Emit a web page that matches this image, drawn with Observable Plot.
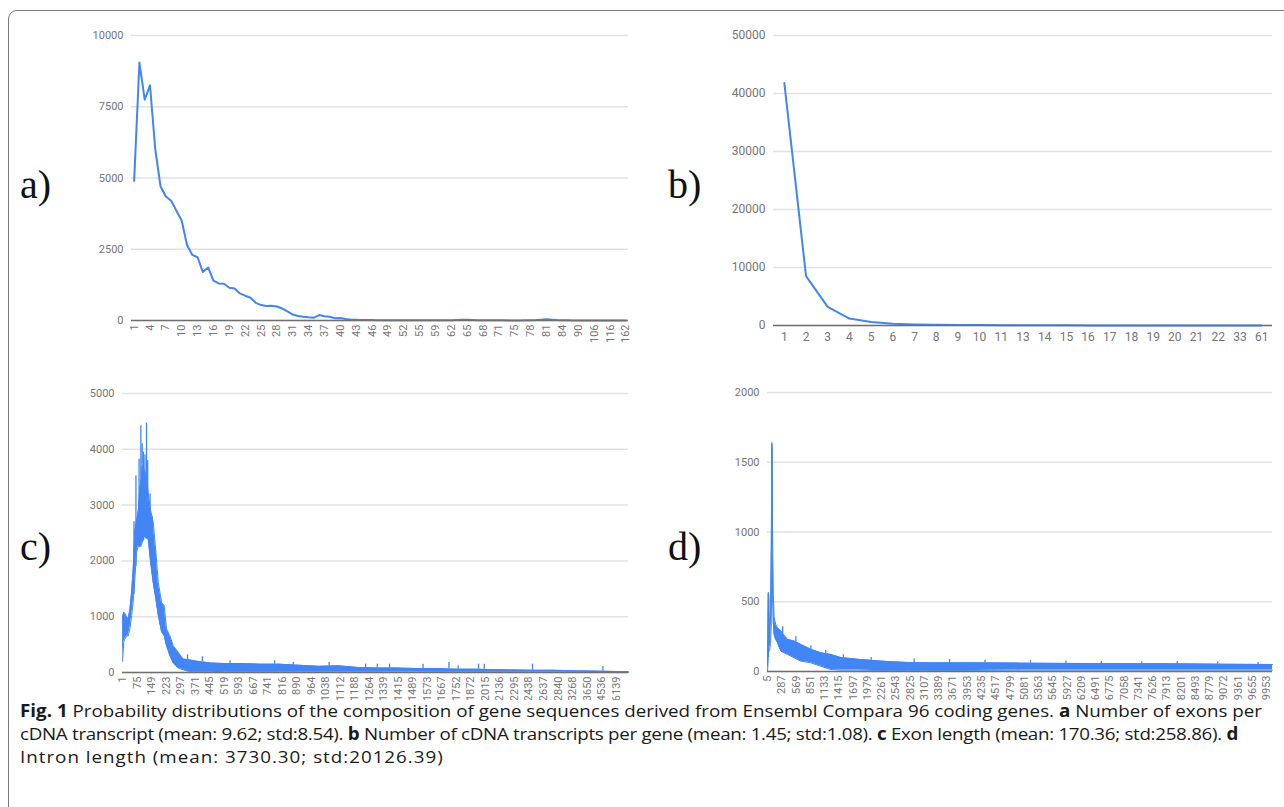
<!DOCTYPE html>
<html><head><meta charset="utf-8">
<script src="https://cdn.jsdelivr.net/npm/d3@7"></script>
<script src="https://cdn.jsdelivr.net/npm/@observablehq/plot@0.6"></script>
<style>
html,body{margin:0;padding:0;background:#fff}
body{width:1284px;height:807px;overflow:hidden;position:relative;font-family:Roboto,sans-serif}
#frame{position:absolute;left:8px;top:10px;width:1400px;height:900px;border:1.5px solid #7a7a7a;border-radius:9px;box-sizing:border-box}
.panel{position:absolute}
.lab{position:absolute;font-family:"Liberation Serif",serif;font-size:40px;line-height:40px;color:#111}
#caption{position:absolute;left:20px;top:699px;font-family:"Open Sans",sans-serif;font-size:17px;color:#1a1a1a;line-height:23px}
.line{white-space:nowrap;transform-origin:0 0;display:block;width:max-content}
</style></head><body>
<div id="frame"></div>
<div class="panel" id="pa" style="left:60px;top:20px"></div>
<div class="panel" id="pb" style="left:700px;top:20px"></div>
<div class="panel" id="pc" style="left:60px;top:370px"></div>
<div class="panel" id="pd" style="left:700px;top:370px"></div>
<div class="lab" style="left:20px;top:165px">a)</div>
<div class="lab" style="left:668px;top:165px">b)</div>
<div class="lab" style="left:20px;top:527px">c)</div>
<div class="lab" style="left:668px;top:527px">d)</div>
<div id="caption">
<span class="line" data-w="1242"><b>Fig. 1</b> Probability distributions of the composition of gene sequences derived from Ensembl Compara 96 coding genes. <b>a</b> Number of exons per</span>
<span class="line" data-w="1218">cDNA transcript (mean: 9.62; std:8.54). <b>b</b> Number of cDNA transcripts per gene (mean: 1.45; std:1.08). <b>c</b> Exon length (mean: 170.36; std:258.86). <b>d</b></span>
<span class="line" data-w="462">Intron length (mean: 3730.30; std:20126.39)</span>
</div>
<script>
// ---------- Panel a: number of exons per cDNA transcript ----------
const catsA = [1,2,3,4,5,6,7,8,9,10,11,12,13,14,15,16,17,18,19,20,21,22,23,24,25,26,27,28,29,30,
  31,32,33,34,35,36,37,38,39,40,41,42,43,44,45,46,47,48,49,50,51,52,53,54,55,56,58,59,60,61,
  62,63,64,65,66,67,68,69,70,71,72,74,75,76,77,78,79,80,81,82,83,84,86,88,90,95,101,106,109,113,
  116,124,137,162];
const valuesA = [4900,9050,7750,8250,6000,4700,4350,4200,3850,3500,
  2650,2300,2220,1700,1860,1400,1300,1290,1150,1120,
  950,870,800,620,540,510,520,490,420,320,
  210,160,130,110,100,190,150,130,80,90,
  50,30,25,20,18,15,12,10,10,8,
  8,7,7,6,6,6,5,5,8,10,
  10,15,22,30,20,12,8,6,5,5,
  5,4,4,4,5,8,15,30,45,30,
  15,8,5,4,3,3,2,2,2,1,1,1,1,1];
const yTicksA = [0,2500,5000,7500,10000];

// ---------- Panel b: number of cDNA transcripts per gene ----------
const catsB = [1,2,3,4,5,6,7,8,9,10,11,13,14,15,16,17,18,19,20,21,22,33,61];
const valuesB = [41800,8500,3200,1200,600,300,180,120,90,70,50,40,30,25,20,15,12,10,8,6,4,2,1];
const yTicksB = [0,10000,20000,30000,40000,50000];

// ---------- Panel c: exon length (dense series, read as envelope) ----------
const countC = 2580;            // number of categories on the axis
const tickStepC = 74;           // categories between shown labels
const labelsC = ["1","75","149","223","297","371","445","519","593","667","741","816","890","964","1038",
  "1112","1188","1264","1339","1415","1489","1573","1667","1752","1872","2015","2136","2295","2438",
  "2637","2840","3268","3650","4536","6139"];
const envIdxC = [0,6,12,20,29,38,46,54,63,71,80,88,97,100,109,114,122,131,143,156,170,182,199,212,224,241,258,284,309,335,380,450,520,600,700,800,900,1000,1100,1200,1300,1400,1500,1600,1700,1800,1900,2000,2100,2200,2300,2400,2500,2579];
const envLoC  = [200,550,600,650,660,800,1020,1260,1700,2150,2270,2250,2300,2330,2400,2420,2400,2390,1970,1610,1310,1020,720,660,480,300,170,80,50,20,20,20,15,15,15,15,10,10,10,10,10,8,8,5,5,5,5,5,3,3,3,2,2,1];
const envHiC  = [1000,1080,1060,1000,960,1150,1440,1860,2550,2700,2900,3300,3500,3700,3650,3600,3500,3200,2900,2700,2150,1610,1250,1200,780,660,480,360,240,230,200,170,160,160,150,150,130,110,120,90,80,80,70,70,60,60,50,45,40,40,30,25,20,15];
const spikeIdxC  = [58,68,84,93,100,106,114,122,128,140,150,165,190,331,407,548,775,870,1053,1239,1299,1361,1532,1664,1711,1815,1844,2090,2449];
const spikeBaseC = [1400,1900,2250,2250,2330,2380,2420,2400,2400,2100,1800,1450,900,230,195,160,150,135,115,88,80,80,70,70,60,60,58,40,22];
const spikeValC  = [2700,3520,3820,4420,4100,3950,3900,4470,3800,3200,2800,2200,1250,317,281,210,210,180,180,150,150,150,150,180,120,150,150,150,108];
const yTicksC = [0,1000,2000,3000,4000,5000];

// ---------- Panel d: intron length (dense series, read as envelope) ----------
const countD = 9985;
const tickStepD = 282;
const labelsD = ["5","287","569","851","1133","1415","1697","1979","2261","2543","2825","3107","3389","3671",
  "3953","4235","4517","4799","5081","5363","5645","5927","6209","6491","6775","7058","7341","7626",
  "7913","8201","8493","8779","9072","9361","9655","9953"];
const envIdxD = [0,15,25,40,60,75,85,92,100,115,130,160,197,263,395,527,659,857,1054,1252,1450,1779,2108,2438,2767,3097,4000,5000,6000,7000,8000,9000,9984];
const envLoD  = [0,100,150,150,200,350,900,800,600,350,266,230,206,146,122,98,74,62,38,14,10,10,8,8,8,8,8,10,10,10,10,10,10];
const envHiD  = [40,560,540,300,450,900,1630,1400,1000,550,390,340,314,290,230,218,194,160,134,122,100,88,78,70,65,62,62,60,58,56,55,52,50];
const spikeIdxD  = [18,86,88,300,560,857,1150,1500,2050,2900,3600,4300,5200,5900,6600,7400,8100,8900,9700];
const spikeBaseD = [100,900,900,270,210,160,128,98,80,64,62,62,60,58,57,56,55,52,50];
const spikeValD  = [565,1640,1600,320,250,182,150,120,100,90,85,80,78,75,72,70,70,68,65];
const yTicksD = [0,500,1000,1500,2000];

const BLUE = "#4285f4";

function rows(...cols) { return cols[0].map((_, i) => cols.map(c => c[i])); }

function panel(el, o) {
  const tickMap = new Map(o.tickIdx.map((t, i) => [t, o.tickLabels[i]]));
  const chart = Plot.plot({
    width: o.width, height: o.height,
    marginLeft: o.mL, marginRight: o.mR, marginTop: o.mT, marginBottom: o.mB,
    style: {fontFamily: "Roboto, sans-serif", fontSize: (o.fs || 11) + "px", color: "#757575", background: "transparent", overflow: "hidden"},
    x: {type: "linear", domain: [-0.5, o.n - 0.5]},
    y: {domain: [0, o.yTicks[o.yTicks.length - 1]]},
    marks: [
      Plot.gridY(o.yTicks, {stroke: "#e2e2e2", strokeOpacity: 1, strokeWidth: 1.5}),
      ...o.marks,
      Plot.ruleY([0], {stroke: "#6f6f6f", strokeWidth: 1.5}),
      Plot.axisY(o.yTicks, {tickSize: 0, tickPadding: 8, label: null, tickFormat: d => String(d)}),
      Plot.axisX(o.tickIdx, {tickSize: 0, tickPadding: o.xPad, tickRotate: o.rotate, label: null,
        tickFormat: d => tickMap.get(d)})
    ]
  });
  document.getElementById(el).appendChild(chart);
}

// a
panel("pa", {
  width: 575, height: 330, mL: 71, mR: 7, mT: 15, mB: 30,
  n: catsA.length, yTicks: yTicksA,
  tickIdx: catsA.map((c, i) => i).filter(i => i % 3 === 0),
  tickLabels: catsA.filter((c, i) => i % 3 === 0).map(String),
  rotate: -90, xPad: 4,
  marks: [Plot.lineY(valuesA.map((v, i) => ({i, v})), {x: "i", y: "v", stroke: BLUE, strokeWidth: 2})]
});

// b
panel("pb", {
  width: 584, height: 330, mL: 73, mR: 12, mT: 15, mB: 25, fs: 12,
  n: catsB.length, yTicks: yTicksB,
  tickIdx: catsB.map((c, i) => i),
  tickLabels: catsB.map(String),
  rotate: 0, xPad: 7,
  marks: [Plot.lineY(valuesB.map((v, i) => ({i, v})), {x: "i", y: "v", stroke: BLUE, strokeWidth: 2})]
});

// c
const envC = rows(envIdxC, envLoC, envHiC).map(([i, lo, hi]) => ({i, lo, hi}));
const spC = rows(spikeIdxC, spikeBaseC, spikeValC).map(([i, b, v]) => ({i, b, v}));
panel("pc", {
  width: 575, height: 330, mL: 62, mR: 7, mT: 23, mB: 28,
  n: countC, yTicks: yTicksC,
  tickIdx: labelsC.map((l, k) => k * tickStepC),
  tickLabels: labelsC,
  rotate: -90, xPad: 4,
  marks: [
    Plot.areaY(envC, {x: "i", y1: "lo", y2: "hi", fill: BLUE}),
    Plot.lineY(envC, {x: "i", y: "hi", stroke: BLUE, strokeWidth: 1}),
    Plot.lineY(envC, {x: "i", y: "lo", stroke: BLUE, strokeWidth: 1}),
    Plot.ruleX(spC, {x: "i", y1: "b", y2: "v", stroke: BLUE, strokeWidth: 1.3})
  ]
});

// d
const envD = rows(envIdxD, envLoD, envHiD).map(([i, lo, hi]) => ({i, lo, hi}));
const spD = rows(spikeIdxD, spikeBaseD, spikeValD).map(([i, b, v]) => ({i, b, v}));
panel("pd", {
  width: 584, height: 330, mL: 67, mR: 12, mT: 22, mB: 29,
  n: countD, yTicks: yTicksD,
  tickIdx: labelsD.map((l, k) => k * tickStepD),
  tickLabels: labelsD,
  rotate: -90, xPad: 4,
  marks: [
    Plot.areaY(envD, {x: "i", y1: "lo", y2: "hi", fill: BLUE}),
    Plot.lineY(envD, {x: "i", y: "hi", stroke: BLUE, strokeWidth: 1}),
    Plot.lineY(envD, {x: "i", y: "lo", stroke: BLUE, strokeWidth: 1}),
    Plot.ruleX(spD, {x: "i", y1: "b", y2: "v", stroke: BLUE, strokeWidth: 1.3})
  ]
});

// caption lines: one common horizontal scale (from line 1), modest letter-spacing to fit the others
const lines = [...document.querySelectorAll(".line")];
const w0 = lines[0].getBoundingClientRect().width;
const sc = +lines[0].dataset.w / w0;
lines.forEach((s, k) => {
  if (k > 0) {
    const w = s.getBoundingClientRect().width;
    const n = s.textContent.length;
    let ls = (+s.dataset.w / sc - w) / n;
    ls = Math.max(-0.6, Math.min(0.9, ls));
    s.style.letterSpacing = ls.toFixed(3) + "px";
  }
  s.style.transform = `scaleX(${sc})`;
});
</script>
</body></html>
